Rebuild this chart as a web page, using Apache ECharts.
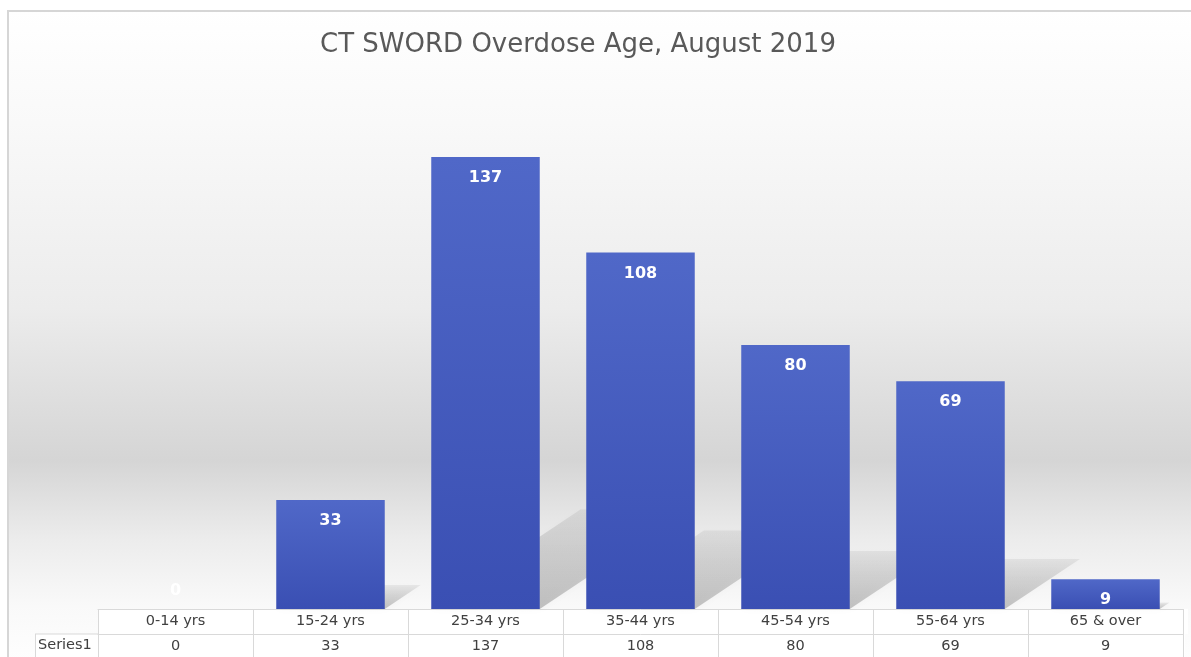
<html>
<head>
<meta charset="utf-8">
<script src="https://cdn.jsdelivr.net/npm/echarts@6/dist/echarts.min.js"></script>
<style>
  html, body { margin: 0; padding: 0; background: #fff; }
  #chart { width: 1191px; height: 657px; }
</style>
</head>
<body>
<div id="chart"></div>
<script type="text/javascript">
    // data
    var titleText = 'CT SWORD Overdose Age, August 2019';
    var seriesName = 'Series1';
    var categories = ['0-14 yrs', '15-24 yrs', '25-34 yrs', '35-44 yrs', '45-54 yrs', '55-64 yrs', '65 & over'];
    var values = [0, 33, 137, 108, 80, 69, 9];

    var myChart = echarts.init(document.getElementById('chart'));

    var lineColor = '#d9d9d9';
    var font = 'DejaVu Sans';

    // bar data, the zero bar gets its label lifted above the base
    var barData = values.map(function (v) {
        if (v === 0) {
            return { value: v, label: { position: 'insideBottom', distance: 10 } };
        }
        return v;
    });
    var shadowData = values.map(function (v, i) { return [i, v]; });

    // perspective shadow behind each bar
    function renderShadow(params, api) {
        var idx = api.value(0);
        var v = api.value(1);
        if (!v) return;
        var base = api.coord([idx, 0]);
        var top = api.coord([idx, v]);
        var bw = api.size([1, 0])[0] * 0.7;
        var h = base[1] - top[1];
        var x0 = base[0] - bw / 2, x1 = base[0] + bw / 2;
        var dx = h * 0.33, dy = h * 0.22;
        return {
            type: 'polygon',
            shape: {
                points: [[x0, base[1]], [x1, base[1]], [x1 + dx, base[1] - dy], [x0 + dx, base[1] - dy]]
            },
            style: {
                fill: new echarts.graphic.LinearGradient(0, 0, 0, 1, [
                    { offset: 0, color: 'rgba(0,0,0,0.06)' },
                    { offset: 0.4, color: 'rgba(0,0,0,0.13)' },
                    { offset: 1, color: 'rgba(0,0,0,0.22)' }
                ]),
                shadowBlur: 6,
                shadowColor: 'rgba(0,0,0,0.12)'
            }
        };
    }

    var options = {
        animation: false,
        backgroundColor: '#ffffff',
        title: {
            text: titleText,
            left: 573,
            textAlign: 'center',
            top: 27,
            textStyle: {
                fontFamily: font,
                fontSize: 26,
                fontWeight: 'normal',
                color: '#595959'
            }
        },
        graphic: [
            {
                type: 'rect',
                z: -10,
                shape: { x: 8, y: 11, width: 1200, height: 660 },
                style: {
                    fill: new echarts.graphic.LinearGradient(0, 0, 0, 1, [
                        { offset: 0, color: '#ffffff' },
                        { offset: 0.17, color: '#f9f9f9' },
                        { offset: 0.45, color: '#ececec' },
                        { offset: 0.68, color: '#d5d5d5' },
                        { offset: 0.8, color: '#ececec' },
                        { offset: 0.9, color: '#f9f9f9' },
                        { offset: 1, color: '#ffffff' }
                    ]),
                    stroke: '#d6d6d6',
                    lineWidth: 2
                }
            },
            {
                type: 'rect',
                z: -5,
                shape: { x: 98, y: 609, width: 1090, height: 25 },
                style: { fill: '#ffffff' }
            },
            {
                type: 'rect',
                z: -5,
                shape: { x: 35, y: 634, width: 1150, height: 30 },
                style: { fill: '#ffffff' }
            },
            {
                type: 'line',
                shape: { x1: 35, y1: 634, x2: 98, y2: 634 },
                style: { stroke: lineColor, lineWidth: 1 }
            },
            {
                type: 'line',
                shape: { x1: 35.5, y1: 634, x2: 35.5, y2: 660 },
                style: { stroke: lineColor, lineWidth: 1 }
            },
            {
                type: 'text',
                left: 38,
                top: 638,
                style: {
                    text: seriesName,
                    fontFamily: font,
                    fontSize: 14.5,
                    fill: '#404040'
                }
            }
        ],
        grid: {
            left: 98,
            right: 8,
            top: 114,
            bottom: 48,
            containLabel: false
        },
        xAxis: [
            {
                type: 'category',
                data: categories,
                axisLine: { show: true, lineStyle: { color: lineColor, width: 1 } },
                axisTick: { show: true, length: 25, lineStyle: { color: lineColor } },
                axisLabel: {
                    margin: 5,
                    fontFamily: font,
                    fontSize: 14.5,
                    color: '#404040'
                }
            },
            {
                type: 'category',
                position: 'bottom',
                offset: 25,
                data: values.map(String),
                axisLine: { show: true, lineStyle: { color: lineColor, width: 1 } },
                axisTick: { show: true, length: 25, lineStyle: { color: lineColor } },
                axisLabel: {
                    margin: 5,
                    fontFamily: font,
                    fontSize: 14.5,
                    color: '#404040'
                }
            }
        ],
        yAxis: {
            type: 'value',
            min: 0,
            max: 150,
            show: false
        },
        series: [
            {
                type: 'custom',
                z: 1,
                renderItem: renderShadow,
                data: shadowData,
                silent: true
            },
            {
                name: seriesName,
                type: 'bar',
                z: 3,
                barWidth: '70%',
                data: barData,
                itemStyle: {
                    color: new echarts.graphic.LinearGradient(0, 0, 0, 1, [
                        { offset: 0, color: '#5068c8' },
                        { offset: 1, color: '#3a4fb3' }
                    ])
                },
                label: {
                    show: true,
                    position: 'insideTop',
                    distance: 13,
                    fontFamily: font,
                    fontSize: 16,
                    fontWeight: 'bold',
                    color: '#ffffff'
                }
            }
        ]
    };

    myChart.setOption(options);
</script>
</body>
</html>
